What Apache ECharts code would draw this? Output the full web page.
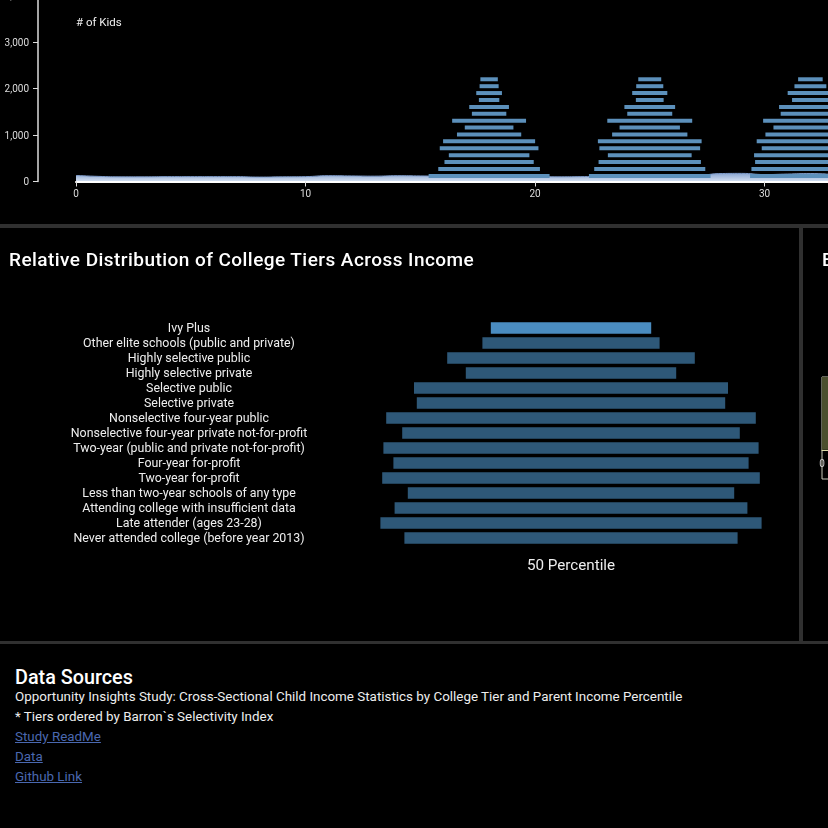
<!DOCTYPE html>
<html>
<head>
<meta charset="utf-8">
<title>College Tiers</title>
<script src="https://cdn.jsdelivr.net/npm/echarts@6/dist/echarts.min.js"></script>
<style>
* { margin: 0; padding: 0; }
html, body { width: 828px; height: 828px; background: #000; overflow: hidden; font-family: Roboto, sans-serif; color: #fff; }
#chart { position: absolute; left: 0; top: 0; width: 828px; height: 640px; }
.rule { position: absolute; background: #303030; }
.panelTitle { position: absolute; top: 249px; font-size: 19px; font-weight: 500; letter-spacing: 0.45px; line-height: 22px; white-space: nowrap; }
#kidsLabel { position: absolute; left: 76px; top: 15px; font-size: 11.5px; color: #eee; }
#sources { position: absolute; left: 15px; top: 666px; font-size: 13.4px; line-height: 20px; color: #eee; }
#sources h3 { font-size: 19.8px; font-weight: 500; line-height: 22px; color: #fff; margin-bottom: -1px; position: relative; top: 0.5px; }
#sources a { color: #4a68b0; display: block; }
</style>
</head>
<body>
<div id="chart"></div>
<div class="rule" style="left:0;top:224px;width:828px;height:4px"></div>
<div class="rule" style="left:799px;top:228px;width:4px;height:413px"></div>
<div class="rule" style="left:0;top:641px;width:828px;height:3px"></div>
<div id="kidsLabel"># of Kids</div>
<div class="panelTitle" style="left:9px">Relative Distribution of College Tiers Across Income</div>
<div class="panelTitle" style="left:822px">E</div>
<div id="sources">
	<h3>Data Sources</h3>
	<div>Opportunity Insights Study: Cross-Sectional Child Income Statistics by College Tier and Parent Income Percentile</div>
	<div>* Tiers ordered by Barron`s Selectivity Index</div>
	<a href="#">Study ReadMe</a>
	<a href="#">Data</a>
	<a href="#">Github Link</a>
</div>
<script>
var tiers = ['Ivy Plus', 'Other elite schools (public and private)', 'Highly selective public', 'Highly selective private',
	'Selective public', 'Selective private', 'Nonselective four-year public', 'Nonselective four-year private not-for-profit',
	'Two-year (public and private not-for-profit)', 'Four-year for-profit', 'Two-year for-profit',
	'Less than two-year schools of any type', 'Attending college with insufficient data', 'Late attender (ages 23-28)',
	'Never attended college (before year 2013)'];
// bar widths at percentile 50, in % of the panel
var tierShare = [40.1, 44.3, 61.9, 52.6, 78.5, 77.1, 92.4, 84.4, 93.8, 88.8, 94.4, 81.6, 88.2, 95.3, 83.3];

// top chart: the row heights are shared by all three pyramids
var rowKids = [2203, 2054, 1906, 1757, 1608, 1460, 1311, 1162, 1013, 865, 716, 567, 418, 270, 118];
var pyramidCenters = [18, 25, 32];
var pyramid18 = [0.76, 0.83, 1.12, 0.89, 1.73, 1.50, 3.22, 2.12, 2.80, 4.01, 4.30, 3.51, 3.89, 4.43, 5.27];
var pyramid25 = [1.00, 1.18, 1.53, 1.21, 2.21, 1.96, 3.70, 2.63, 3.28, 4.52, 4.39, 3.65, 4.46, 4.84, 5.30];
var pyramid32 = [1.07, 1.39, 1.98, 1.60, 2.73, 2.59, 4.12, 3.22, 3.92, 4.68, 4.24, 4.91, 4.82, 5.14, 5.26];
// total kids per percentile, the band along the axis
var totalKids = [130, 110, 100, 100, 105, 105, 105, 105, 95, 100, 105, 125, 120, 115, 125, 120, 115, 115, 120, 110, 110, 100,
	105, 110, 130, 150, 135, 120, 170, 175, 150, 160, 170, 150];

var axisColor = '#ddd';

// a bar centered on value 0, at row value 1, value 2 wide
function centeredBar(height) {
	return function(params, api) {
		var a = api.coord([api.value(0) - api.value(2) / 2, api.value(1)]);
		var b = api.coord([api.value(0) + api.value(2) / 2, api.value(1)]);
		return {
			type: 'rect',
			shape: { x: a[0], y: a[1] - height / 2, width: b[0] - a[0], height: height },
			style: api.style()
		};
	};
}

var pyramidData = [];
[pyramid18, pyramid25, pyramid32].forEach(function(widths, p) {
	widths.forEach(function(w, i) {
		pyramidData.push([pyramidCenters[p], rowKids[i], w]);
	});
});

var tierData = tierShare.map(function(w, i) {
	return { value: [0, i, w], itemStyle: { color: i == 0 ? '#4a8cc0' : '#2e5878' } };
});

var myChart = echarts.init(document.getElementById('chart'));
myChart.setOption({
	animation: false,
	backgroundColor: '#000',
	grid: [
		{ left: 76, width: 918, top: -4.1, height: 185.6, outerBoundsMode: 'none' },
		{ left: 371, width: 400, top: 320.5, height: 225, outerBoundsMode: 'none' },
		{ left: 822, width: 100, top: 377, height: 102, show: true, borderColor: '#c8c8b8', borderWidth: 1, outerBoundsMode: 'none' }
	],
	xAxis: [
		{
			gridIndex: 0, type: 'value', min: 0, max: 40, interval: 10, z: 10,
			splitLine: { show: false },
			axisLine: { lineStyle: { color: '#fff', width: 2 } },
			axisTick: { length: 5, lineStyle: { color: axisColor } },
			axisLabel: { color: axisColor, fontSize: 10, fontFamily: 'Roboto', margin: 8 }
		},
		{
			gridIndex: 1, type: 'value', min: -50, max: 50,
			splitLine: { show: false }, axisLine: { show: false }, axisTick: { show: false }, axisLabel: { show: false },
			name: '50 Percentile', nameLocation: 'middle', nameGap: 13,
			nameTextStyle: { color: '#eee', fontSize: 15.2, fontFamily: 'Roboto' }
		},
		{
			gridIndex: 2, type: 'value', min: 0, max: 20, interval: 20, z: 10,
			splitLine: { show: false },
			axisLine: { onZero: true, lineStyle: { color: '#dcdca8', width: 1 } },
			axisTick: { show: false },
			axisLabel: { color: '#ccc', fontSize: 10, fontFamily: 'Roboto', margin: -20 }
		}
	],
	yAxis: [
		{
			gridIndex: 0, type: 'value', min: 0, max: 4000, interval: 1000, offset: 38,
			splitLine: { show: false },
			axisLine: { show: true, onZero: false, lineStyle: { color: axisColor, width: 1.5 } },
			axisTick: { show: true, length: 5, lineStyle: { color: axisColor } },
			axisLabel: {
				color: axisColor, fontSize: 10, fontFamily: 'Roboto', margin: 9, verticalAlign: 'top', lineHeight: 2,
				formatter: function(v) { return v.toLocaleString('en-US'); }
			}
		},
		{
			gridIndex: 1, type: 'category', data: tiers, inverse: true,
			axisLine: { show: false }, axisTick: { show: false },
			axisLabel: { color: '#eee', fontSize: 12.4, fontFamily: 'Roboto', interval: 0, align: 'center', margin: 182, verticalAlign: 'top', lineHeight: 2 }
		},
		{
			gridIndex: 2, type: 'value', min: -0.4, max: 1,
			splitLine: { show: false }, axisLine: { show: false }, axisTick: { show: false }, axisLabel: { show: false }
		}
	],
	series: [
		{
			type: 'line', xAxisIndex: 0, yAxisIndex: 0, smooth: true, showSymbol: false, z: 2,
			data: totalKids.map(function(v, i) { return [i, v]; }),
			lineStyle: { color: '#7f9ccb', width: 1 },
			areaStyle: {
				opacity: 1,
				color: new echarts.graphic.LinearGradient(0, 0, 0, 1, [
					{ offset: 0, color: '#8aa5d0' }, { offset: 1, color: '#d5e1f2' }
				])
			}
		},
		{
			type: 'custom', xAxisIndex: 0, yAxisIndex: 0, z: 3,
			renderItem: centeredBar(4),
			itemStyle: { color: '#5c90bb' },
			data: pyramidData
		},
		{
			type: 'custom', xAxisIndex: 1, yAxisIndex: 1,
			renderItem: centeredBar(11.6),
			data: tierData
		},
		{
			type: 'line', xAxisIndex: 2, yAxisIndex: 2, showSymbol: false,
			data: [[0, 1], [20, 1]],
			lineStyle: { width: 0 },
			areaStyle: { color: '#4c4f2e', opacity: 1 }
		}
	]
});
</script>
</body>
</html>
